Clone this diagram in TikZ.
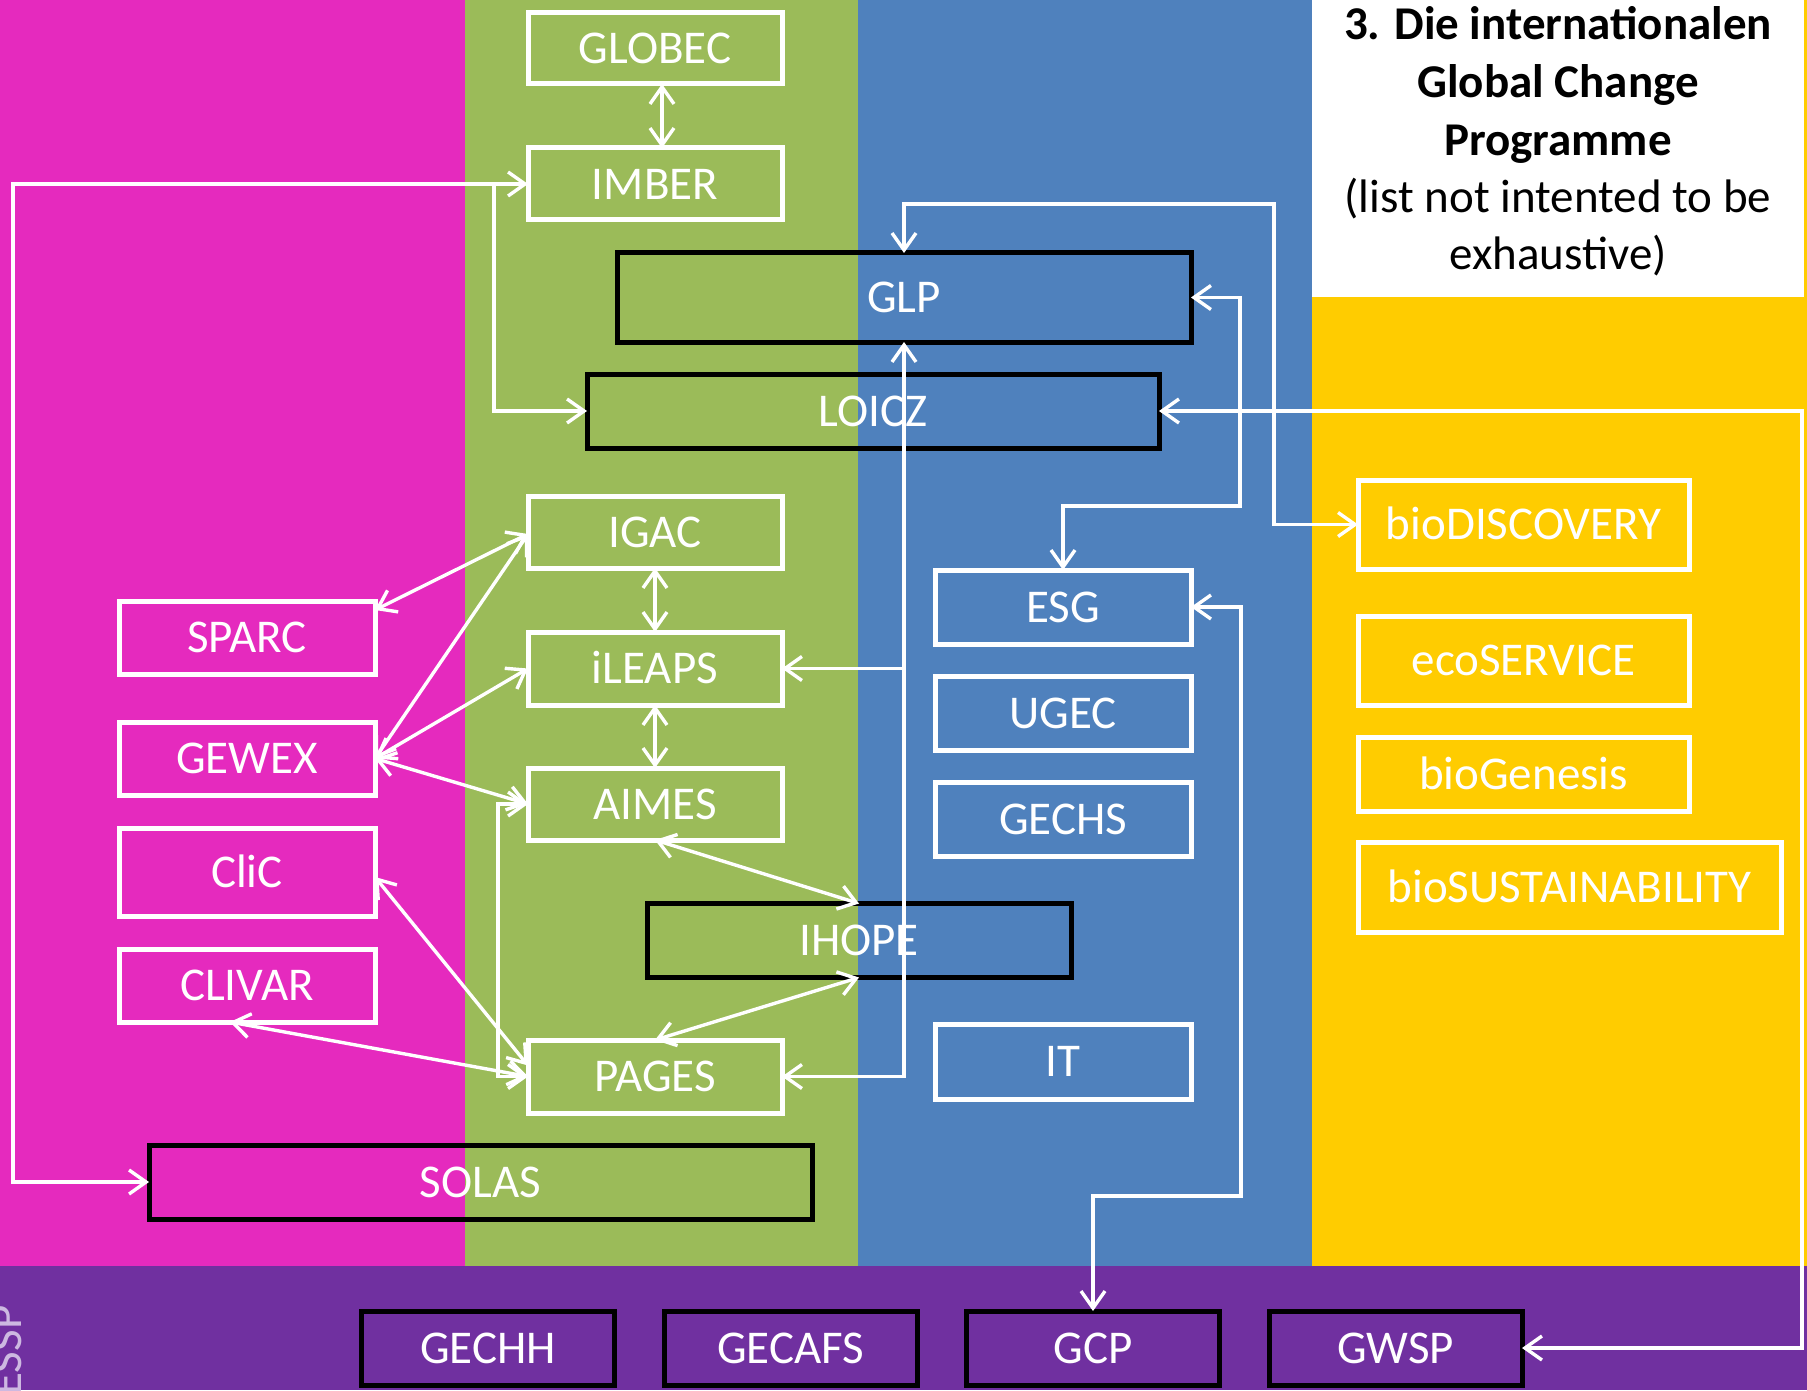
\documentclass[tikz,border=0pt]{standalone}
\usepackage{fontspec}
\setmainfont{Carlito}
\usetikzlibrary{arrows.meta}
\definecolor{cMag}{RGB}{229,42,190}
\definecolor{cGreen}{RGB}{155,187,89}
\definecolor{cBlue}{RGB}{79,129,189}
\definecolor{cYellow}{RGB}{255,204,0}
\definecolor{cPurple}{RGB}{112,48,160}
\definecolor{cEssp}{RGB}{205,185,225}
\begin{document}
\begin{tikzpicture}[x=0.5pt,y=-0.5pt,
  boxbase/.style={rectangle, line width=2.5pt, inner sep=0pt, outer sep=0pt,
    text=white, font=\fontsize{23.5}{28}\selectfont, text height=15.1pt, text depth=0pt},
  wbox/.style={boxbase, draw=white},
  kbox/.style={boxbase, draw=black},
  con/.style={draw=white, line width=1.7pt},
  >={Straight Barb[length=8.5pt,width=12pt]},
  titl/.style={anchor=base, inner sep=0pt, font=\fontsize{23.5}{28}\selectfont}
]
\useasboundingbox (0,0) rectangle (1807,1390);
% background columns
\fill[cMag] (0,0) rectangle (465,1266);
\fill[cGreen] (465,0) rectangle (858,1266);
\fill[cBlue] (858,0) rectangle (1312,1266);
\fill[cYellow] (1312,0) rectangle (1807,1266);
\fill[white] (1312,0) rectangle (1804,297);
\fill[cPurple] (0,1266) rectangle (1807,1390);

% title
\node[titl, font=\bfseries\fontsize{23.5}{28}\selectfont] (t1) at (1558,40) {3. Die internationalen};
\node[titl, font=\bfseries\fontsize{23.5}{28}\selectfont] (t2) at (1558,98) {Global Change};
\node[titl, font=\bfseries\fontsize{23.5}{28}\selectfont] (t3) at (1558,156) {Programme};
\node[titl] (t4) at (1558,213) {(list not intented to be};
\node[titl] (t5) at (1558,270) {exhaustive)};

% ESSP label
\node[rotate=90, anchor=base west, inner sep=0pt, text=cEssp, font=\fontsize{23.5}{28}\selectfont] (essp) at (21,1396) {ESSP};

% green column
\node[wbox, minimum width=127pt, minimum height=35.5pt] (GLOBEC) at (655,48.5) {GLOBEC};
\node[wbox, minimum width=127pt, minimum height=36pt] (IMBER) at (655,184) {IMBER};
\node[wbox, minimum width=127pt, minimum height=36pt] (IGAC) at (655,532) {IGAC};
\node[wbox, minimum width=127pt, minimum height=36.5pt] (iLEAPS) at (655,668.5) {iLEAPS};
\node[wbox, minimum width=127pt, minimum height=36pt] (AIMES) at (655,804) {AIMES};
\node[wbox, minimum width=127pt, minimum height=36.5pt] (PAGES) at (655,1076.5) {PAGES};
% spanning black boxes
\node[kbox, minimum width=287pt, minimum height=44.5pt] (GLP) at (904,297.5) {GLP};
\node[kbox, minimum width=286pt, minimum height=37pt] (LOICZ) at (873,411) {LOICZ};
\node[kbox, minimum width=212pt, minimum height=37pt] (IHOPE) at (859,940.5) {IHOPE};
\node[kbox, minimum width=331.5pt, minimum height=37pt] (SOLAS) at (480.5,1182) {SOLAS};
% magenta column
\node[wbox, minimum width=128pt, minimum height=36.5pt] (SPARC) at (247,637.5) {SPARC};
\node[wbox, minimum width=128pt, minimum height=36.5pt] (GEWEX) at (247,758.5) {GEWEX};
\node[wbox, minimum width=128pt, minimum height=44pt] (CliC) at (247,872) {CliC};
\node[wbox, minimum width=128pt, minimum height=36.5pt] (CLIVAR) at (247,985.5) {CLIVAR};
% blue column
\node[wbox, minimum width=128pt, minimum height=37pt] (ESG) at (1063,607) {ESG};
\node[wbox, minimum width=128pt, minimum height=37pt] (UGEC) at (1063,713) {UGEC};
\node[wbox, minimum width=128pt, minimum height=37pt] (GECHS) at (1063,819) {GECHS};
\node[wbox, minimum width=128pt, minimum height=37.5pt] (IT) at (1063,1061.5) {IT};
% yellow column
\node[wbox, minimum width=165.5pt, minimum height=44.5pt] (bioD) at (1523.5,524.5) {bioDISCOVERY};
\node[wbox, minimum width=165.5pt, minimum height=44.5pt] (ecoS) at (1523.5,660.5) {ecoSERVICE};
\node[wbox, minimum width=165.5pt, minimum height=37pt] (bioG) at (1523.5,774) {bioGenesis};
\node[wbox, minimum width=211.5pt, minimum height=45pt] (bioS) at (1569.5,887) {bioSUSTAINABILITY};
% purple band
\node[kbox, minimum width=126.5pt, minimum height=37pt] (GECHH) at (488,1348) {GECHH};
\node[kbox, minimum width=126.5pt, minimum height=37pt] (GECAFS) at (790.5,1348) {GECAFS};
\node[kbox, minimum width=126.5pt, minimum height=37pt] (GCP) at (1093,1348) {GCP};
\node[kbox, minimum width=126.5pt, minimum height=37pt] (GWSP) at (1395.5,1348) {GWSP};

% connectors
\draw[con,<->] ([xshift=3.5pt]GLOBEC.south) -- ([xshift=3.5pt]IMBER.north);
\coordinate (L1) at (13,184);
\coordinate (L2) at (494,184);
\draw[con,<->] (SOLAS.west) -| (L1) -- (IMBER.west);
\draw[con,->] (L2) |- (LOICZ.west);
\draw[con,<->] (IGAC.south) -- (iLEAPS.north);
\draw[con,<->] (iLEAPS.south) -- (AIMES.north);
\draw[con,<->] ([yshift=-1pt]IGAC.west) -- ([yshift=-4.5pt]SPARC.north east);
\draw[con,<->] ([yshift=-1pt]IGAC.west) -- (GEWEX.east);
\draw[con,<->] (iLEAPS.west) -- (GEWEX.east);
\draw[con,<->] (GEWEX.east) -- (AIMES.west);
\draw[con,<->] ([xshift=-8.5pt]CLIVAR.south) -- (PAGES.west);
\draw[con,<->] ([yshift=-2.5pt]CliC.east) -- ([yshift=5.5pt]PAGES.west);
\draw[con,<->] (AIMES.west) -- ++(-15pt,0) |- (PAGES.west);
\draw[con,<->] (AIMES.south) -- (IHOPE.north);
\draw[con,<->] (IHOPE.south) -- (PAGES.north);
\draw[con,<->] (PAGES.east) -| (GLP.south);
\draw[con,->] (iLEAPS.east -| GLP.south) -- (iLEAPS.east);
\coordinate (R1) at (1274,204);
\draw[con,<->] (GLP.north) |- (R1) |- (bioD.west);
\coordinate (R2) at (1240,506);
\draw[con,<->] (GLP.east) -| (R2) -| (ESG.north);
\coordinate (R3) at (1802,411);
\draw[con,<->] (LOICZ.east) -- (R3) |- (GWSP.east);
\coordinate (R4) at (1241,1196);
\draw[con,<->] (ESG.east) -| (R4) -| (GCP.north);
\end{tikzpicture}
\end{document}
